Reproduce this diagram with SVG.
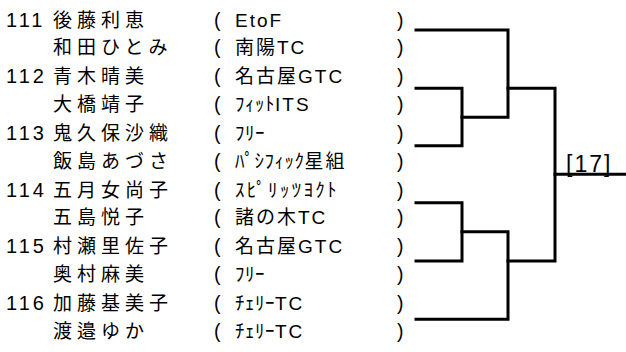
<svg xmlns="http://www.w3.org/2000/svg" width="626" height="352" viewBox="0 0 626 352">
<style>
.num{font-family:"Liberation Sans","Noto Sans CJK JP",sans-serif;font-size:20px;letter-spacing:3px;fill:#000}
.name{font-family:"Noto Sans CJK JP","Liberation Sans",sans-serif;font-size:19px;letter-spacing:5px;fill:#000}
.team{font-family:"Liberation Sans","Noto Sans CJK JP",sans-serif;font-size:19px;letter-spacing:2px;fill:#000}
.hk{font-family:"Noto Sans CJK JP",sans-serif;font-size:19px;letter-spacing:0.5px}
.par{font-family:"Liberation Sans",sans-serif;font-size:19.5px;fill:#000}
.lbl{font-family:"Liberation Sans",sans-serif;font-size:23px;letter-spacing:2px;fill:#000}
.ln{fill:none;stroke:#000;stroke-width:3;stroke-linecap:square}
</style>
<rect width="626" height="352" fill="#fff"/>
<g id="entry111">
<text class="num" x="6" y="26.7">111</text>
<text class="name" x="53" y="26.7">後藤利恵</text>
<text class="par" x="214" y="26.7">(</text><text class="team" x="235" y="26.7">EtoF</text><text class="par" x="397" y="26.7">)</text>
<text class="name" x="53" y="54.2">和田ひとみ</text>
<text class="par" x="214" y="54.2">(</text><text class="team" x="235" y="54.2">南陽TC</text><text class="par" x="397" y="54.2">)</text>
</g>
<g id="entry112">
<text class="num" x="6" y="83.3">112</text>
<text class="name" x="53" y="83.3">青木晴美</text>
<text class="par" x="214" y="83.3">(</text><text class="team" x="235" y="83.3">名古屋GTC</text><text class="par" x="397" y="83.3">)</text>
<text class="name" x="53" y="110.8">大橋靖子</text>
<text class="par" x="214" y="110.8">(</text><text class="team" x="235" y="110.8"><tspan class="hk">ﾌｨｯﾄ</tspan>ITS</text><text class="par" x="397" y="110.8">)</text>
</g>
<g id="entry113">
<text class="num" x="6" y="140">113</text>
<text class="name" x="53" y="140">鬼久保沙織</text>
<text class="par" x="214" y="140">(</text><text class="team" x="235" y="140"><tspan class="hk">ﾌﾘｰ</tspan></text><text class="par" x="397" y="140">)</text>
<text class="name" x="53" y="167.5">飯島あづさ</text>
<text class="par" x="214" y="167.5">(</text><text class="team" x="235" y="167.5"><tspan class="hk">ﾊﾟｼﾌｨｯｸ</tspan>星組</text><text class="par" x="397" y="167.5">)</text>
</g>
<g id="entry114">
<text class="num" x="6" y="196.7">114</text>
<text class="name" x="53" y="196.7">五月女尚子</text>
<text class="par" x="214" y="196.7">(</text><text class="team" x="235" y="196.7"><tspan class="hk" style="letter-spacing:2.3px">ｽﾋﾟﾘｯﾂﾖｸﾄ</tspan></text><text class="par" x="397" y="196.7">)</text>
<text class="name" x="53" y="224.2">五島悦子</text>
<text class="par" x="214" y="224.2">(</text><text class="team" x="235" y="224.2">諸の木TC</text><text class="par" x="397" y="224.2">)</text>
</g>
<g id="entry115">
<text class="num" x="6" y="253.3">115</text>
<text class="name" x="53" y="253.3">村瀬里佐子</text>
<text class="par" x="214" y="253.3">(</text><text class="team" x="235" y="253.3">名古屋GTC</text><text class="par" x="397" y="253.3">)</text>
<text class="name" x="53" y="280.8">奥村麻美</text>
<text class="par" x="214" y="280.8">(</text><text class="team" x="235" y="280.8"><tspan class="hk">ﾌﾘｰ</tspan></text><text class="par" x="397" y="280.8">)</text>
</g>
<g id="entry116">
<text class="num" x="6" y="310">116</text>
<text class="name" x="53" y="310">加藤基美子</text>
<text class="par" x="214" y="310">(</text><text class="team" x="235" y="310"><tspan class="hk">ﾁｪﾘｰ</tspan>TC</text><text class="par" x="397" y="310">)</text>
<text class="name" x="53" y="337.5">渡邉ゆか</text>
<text class="par" x="214" y="337.5">(</text><text class="team" x="235" y="337.5"><tspan class="hk">ﾁｪﾘｰ</tspan>TC</text><text class="par" x="397" y="337.5">)</text>
</g>
<g id="connectors">
<polyline class="ln" points="416,30 508,30 508,117.3 462,117.3"/>
<polyline class="ln" points="416,88.3 462,88.3 462,145.7 416,145.7"/>
<polyline class="ln" points="508,88.3 555,88.3 555,261 508,261"/>
<polyline class="ln" points="416,202.7 462,202.7 462,261 416,261"/>
<polyline class="ln" points="462,231.7 508,231.7 508,319.3 416,319.3"/>
<line class="ln" x1="555" y1="174.3" x2="626" y2="174.3"/>
</g>
<g id="result">
<text class="lbl" x="566" y="171.7">[17]</text>
</g>
</svg>
